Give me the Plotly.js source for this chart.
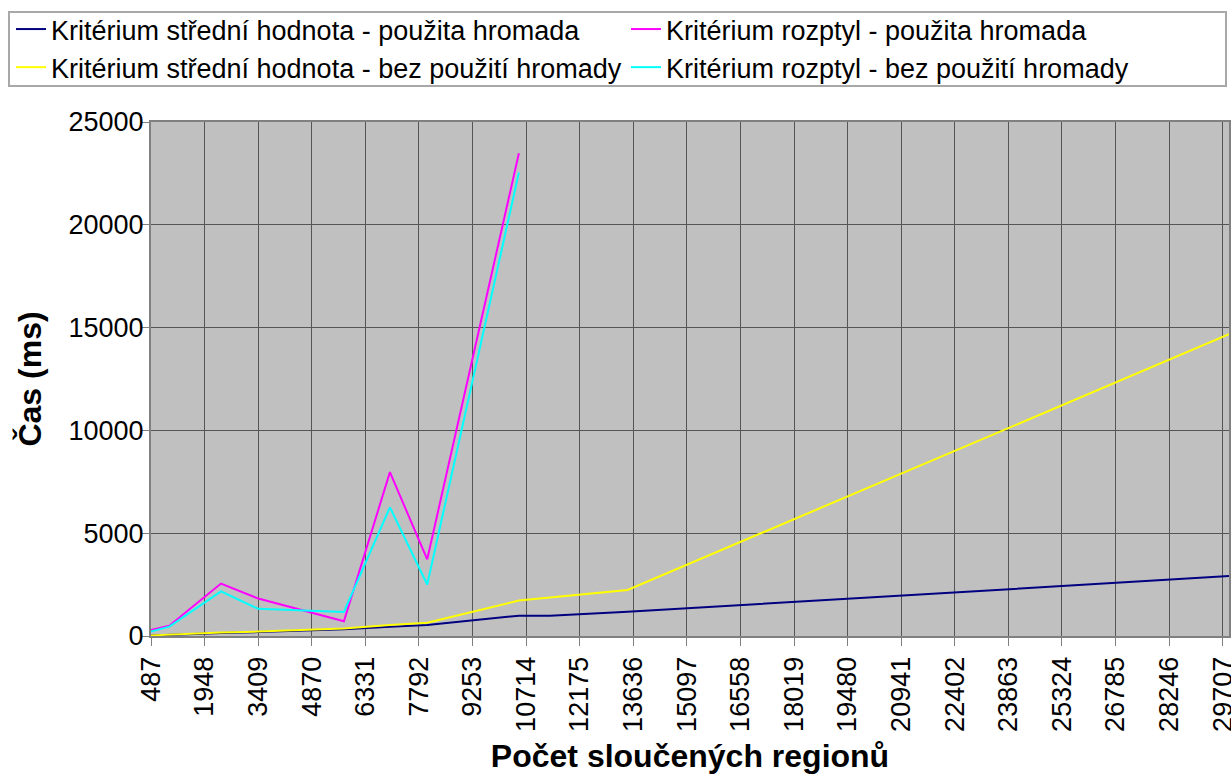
<!DOCTYPE html>
<html>
<head>
<meta charset="utf-8">
<script src="https://cdn.plot.ly/plotly-3.0.1.min.js"></script>
<style>
  html, body { margin: 0; padding: 0; background: #ffffff; }
  #chart { width: 1231px; height: 774px; }
</style>
</head>
<body>
<div id="chart"></div>
<script>
// ---- data ----
const seriesNames = [
  "Kritérium střední hodnota - použita hromada",
  "Kritérium rozptyl - použita hromada",
  "Kritérium střední hodnota - bez použití hromady",
  "Kritérium rozptyl - bez použití hromady"
];

// number of merged regions (x) per series
const xStredniHromada = [487, 986, 2395, 3412, 5747, 7001, 8018, 10517, 11363, 13481, 29878];
const xStredniBez     = [487, 986, 2395, 3412, 5747, 7001, 8018, 10517, 13481, 29878];
const xRozptyl        = [487, 986, 2395, 3412, 5747, 7001, 8018, 10517];

// time in ms
const stredniHromada = [20, 60, 140, 190, 330, 450, 536, 990, 990, 1175, 2913];
const stredniBez     = [30, 70, 170, 215, 370, 535, 650, 1725, 2240, 14676];
const rozptylHromada = [290, 503, 2549, 1820, 720, 7970, 3730, 23480];
const rozptylBez     = [220, 455, 2170, 1320, 1170, 6258, 2505, 22546];

const xTitle = "Počet sloučených regionů";
const yTitle = "Čas (ms)";

const colors = ["#000080", "#FF00FF", "#FFFF00", "#00FFFF"];
const FONT = "'Liberation Sans', Arial, Helvetica, sans-serif";

const traces = [
  {x: xStredniHromada, y: stredniHromada, name: seriesNames[0], color: colors[0], legend: "legend"},
  {x: xRozptyl,        y: rozptylHromada, name: seriesNames[1], color: colors[1], legend: "legend2"},
  {x: xStredniBez,     y: stredniBez,     name: seriesNames[2], color: colors[2], legend: "legend"},
  {x: xRozptyl,        y: rozptylBez,     name: seriesNames[3], color: colors[3], legend: "legend2"}
].map(s => ({
  type: "scatter",
  mode: "lines",
  x: s.x,
  y: s.y,
  name: s.name,
  legend: s.legend,
  line: {color: s.color, width: 2},
  hoverinfo: "x+y+name"
}));

const W = 1231, H = 774;
const PL = 151, PR = 1229, PT = 122, PB = 636;
// pixel position -> paper coordinates (relative to the plot area)
const px2x = px => (px - PL) / (PR - PL);
const px2y = py => (PB - py) / (PB - PT);

const legendCommon = {
  orientation: "v",
  xanchor: "left",
  yanchor: "top",
  bgcolor: "rgba(0,0,0,0)",
  borderwidth: 0,
  font: {family: FONT, size: 27, color: "#000000"},
  traceorder: "normal"
};

const layout = {
  width: W,
  height: H,
  margin: {l: PL, r: W - PR, t: PT, b: H - PB, pad: 0, autoexpand: false},
  paper_bgcolor: "#ffffff",
  plot_bgcolor: "#C0C0C0",
  font: {family: FONT, size: 27, color: "#000000"},
  showlegend: true,
  legend: Object.assign({}, legendCommon, {x: px2x(11), y: px2y(5)}),
  legend2: Object.assign({}, legendCommon, {x: px2x(626), y: px2y(5)}),
  shapes: [{
    type: "rect",
    xref: "paper", yref: "paper",
    x0: px2x(9), x1: px2x(1226),
    y0: px2y(86), y1: px2y(12),
    line: {color: "#a8a8a8", width: 2},
    fillcolor: "rgba(0,0,0,0)",
    layer: "above"
  }],
  xaxis: {
    type: "linear",
    range: [487, 29878],
    tick0: 487,
    dtick: 1461,
    tickmode: "linear",
    tickformat: "d",
    tickangle: -90,
    ticklabeloverflow: "allow",
    ticks: "outside",
    ticklen: 8,
    tickcolor: "#808080",
    tickwidth: 1,
    showgrid: true,
    gridcolor: "#555555",
    gridwidth: 1,
    zeroline: false,
    showline: true,
    linecolor: "#808080",
    linewidth: 2,
    mirror: true,
    tickfont: {family: FONT, size: 27, color: "#000000"},
    title: {text: xTitle, font: {family: FONT, size: 32, color: "#000000", weight: "bold"}, standoff: 31},
    fixedrange: true
  },
  yaxis: {
    range: [0, 25000],
    tick0: 0,
    dtick: 5000,
    tickmode: "linear",
    ticks: "outside",
    ticklen: 8,
    tickcolor: "#808080",
    tickwidth: 1,
    showgrid: true,
    gridcolor: "#555555",
    gridwidth: 1,
    zeroline: false,
    showline: true,
    linecolor: "#808080",
    linewidth: 2,
    mirror: true,
    tickformat: "d",
    ticklabelstandoff: -8,
    tickfont: {family: FONT, size: 27, color: "#000000"},
    title: {text: yTitle, font: {family: FONT, size: 32, color: "#000000", weight: "bold"}, standoff: 17},
    fixedrange: true
  }
};

Plotly.newPlot("chart", traces, layout, {displayModeBar: false, staticPlot: true});
</script>
</body>
</html>
